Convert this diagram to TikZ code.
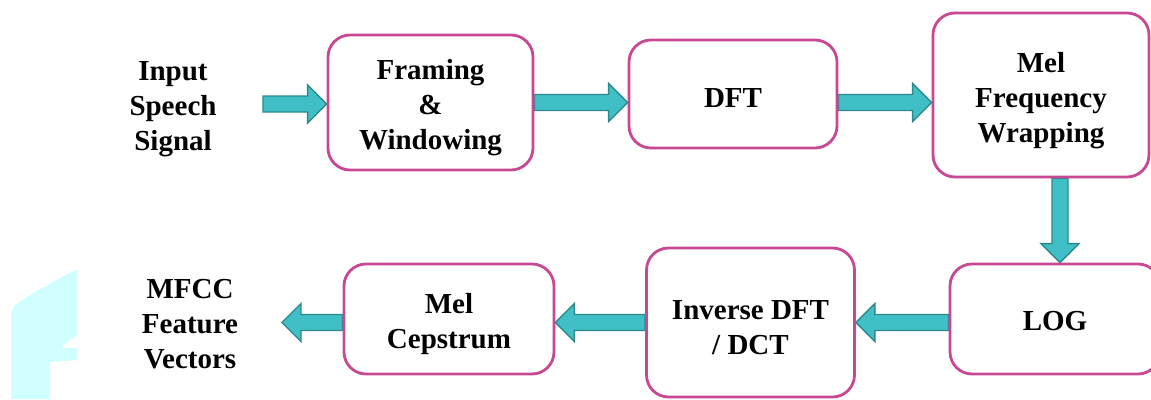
\documentclass[tikz,border=0pt]{standalone}
\usepackage{fontspec}
\setmainfont{Liberation Serif}
\usetikzlibrary{calc,backgrounds}

\definecolor{boxpink}{RGB}{200,72,148}
\definecolor{arrowfill}{RGB}{64,192,198}
\definecolor{arrowedge}{RGB}{44,138,142}
\definecolor{haze}{RGB}{208,255,255}

\newcommand\labelfont{\fontsize{29}{35}\selectfont\bfseries}

\tikzset{
  stage/.style={draw=boxpink, line width=2.8pt, rounded corners=22pt,
    fill=white, inner sep=0pt},
  caption/.style={align=center, font=\labelfont, inner sep=0pt},
  blockarrow/.style={fill=arrowfill, draw=arrowedge, line width=1.4pt,
    line join=miter},
}

% thick block arrow from #1 (tail) to #2 (tip)
\newcommand\blockarrow[2]{%
  \coordinate (ahb) at ($(#2)!19pt!(#1)$);
  \draw[blockarrow] ($(#1)!8pt!90:(#2)$) -- ($(ahb)!8pt!90:(#2)$)
    -- ($(ahb)!19pt!90:(#2)$) -- (#2) -- ($(ahb)!19pt!-90:(#2)$)
    -- ($(ahb)!8pt!-90:(#2)$) -- ($(#1)!8pt!-90:(#2)$) -- cycle;}

\begin{document}
\begin{tikzpicture}[x=1pt,y=-1pt]
  \useasboundingbox (0,0) rectangle (1151,399);

  % processing stages
  \node[stage, minimum width=205pt, minimum height=135pt] (fw) at (430.5,102.5) {};
  \node[stage, minimum width=208pt, minimum height=108pt] (dft) at (733,94) {};
  \node[stage, minimum width=216pt, minimum height=164pt] (mel) at (1041,95) {};
  \node[stage, minimum width=210pt, minimum height=110pt] (log) at (1055,319) {};
  \node[stage, minimum width=208pt, minimum height=149pt] (inv) at (750.5,322.5) {};
  \node[stage, minimum width=210pt, minimum height=110pt] (cep) at (449,319) {};

  % stage texts
  \node[caption] (fwT)  at ($(fw)+(0,5)$)  {Framing\\\&\\Windowing};
  \node[caption] (dftT) at ($(dft)+(0,4)$) {DFT};
  \node[caption] (melT) at ($(mel)+(0,6)$) {Mel\\Frequency\\Wrapping};
  \node[caption] (logT) at ($(log)+(0,2)$) {LOG};
  \node[caption] (invT) at ($(inv)+(0,5)$) {Inverse DFT\\/ DCT};
  \node[caption] (cepT) at ($(cep)+(0,5)$) {Mel\\Cepstrum};

  % input and output captions
  \node[caption] (in) at (173,109) {Input\\Speech\\Signal};
  \node[caption] (out) at (190,324) {MFCC\\Feature\\Vectors};

  % connector end points
  \coordinate (inTail) at (263,104);
  \coordinate (inTip) at (inTail -| fw.west);
  \coordinate (a1) at (fw.east -| dft.west);
  \coordinate (a2s) at (dft.east |- fw.east);
  \coordinate (a2e) at (mel.west |- fw.east);
  \coordinate (vx) at (1060,0);
  \coordinate (a3s) at (vx |- mel.south);
  \coordinate (a3e) at (vx |- log.north);
  \coordinate (a4s) at (log.west |- inv.east);
  \coordinate (a5e) at (inv.west -| cep.east);
  \coordinate (a6s) at (cep.west |- inv.west);
  \coordinate (outTip) at (282,322.5);

  \begin{pgfonlayer}{background}
    \fill[white] (0,0) rectangle (1151,399);
    % faint cyan patch in the lower left corner
    \fill[haze] (11,399) -- (11,313) -- (15,305) -- (33,293) -- (77,269)
      -- (77,335) -- (63,345) -- (63,348) -- (77,348) -- (77,360)
      -- (50,362) -- (50,399) -- cycle;
    % connectors, tucked under the stage borders
    \blockarrow{inTail}{inTip}
    \blockarrow{fw.east}{a1}
    \blockarrow{a2s}{a2e}
    \blockarrow{a3s}{a3e}
    \blockarrow{a4s}{inv.east}
    \blockarrow{inv.west}{a5e}
    \blockarrow{a6s}{outTip}
  \end{pgfonlayer}
\end{tikzpicture}
\end{document}
